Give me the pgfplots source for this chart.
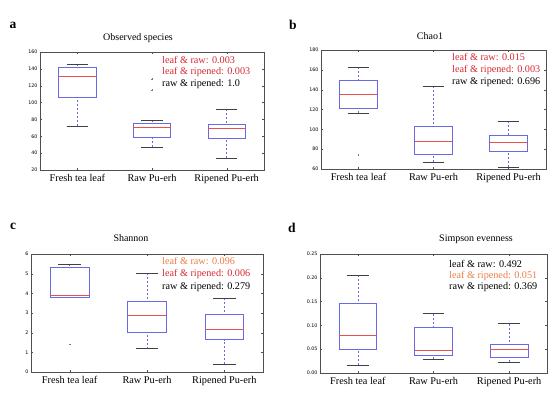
\documentclass[border=0pt]{standalone}
\usepackage{pgfplots}
\pgfplotsset{compat=1.18}
\usepgfplotslibrary{statistics}
\usepackage{fontspec}
\setmainfont{Liberation Serif}
\newfontfamily\tickfont{DejaVu Sans}
\definecolor{boxblue}{RGB}{105,105,230}
\definecolor{medred}{RGB}{230,80,80}
\definecolor{annred}{RGB}{215,40,50}
\definecolor{annorange}{RGB}{235,125,70}
\definecolor{framegray}{RGB}{80,80,80}
\pgfplotsset{
  bp/.style={
    scale only axis,
    xmin=0.5, xmax=3.5,
    xtick={1,2,3},
    xticklabels={Fresh tea leaf, Raw Pu-erh, Ripened Pu-erh},
    xticklabel style={font=\fontsize{10.3}{11}\selectfont, yshift=-0.5pt},
    yticklabel style={font=\tickfont\fontsize{4.8}{5}\selectfont, xshift=1pt},
    /pgf/number format/assume math mode=true,
    tick align=inside,
    major tick length=2pt,
    tick style={framegray, line width=0.3pt},
    axis line style={framegray, line width=0.5pt},
    xtick pos=both, ytick pos=both,
    clip=false,
    boxplot/draw direction=y,
    boxplot/box extend=0.5,
    boxplot/whisker extend=0.29,
    boxplot/every box/.style={draw=boxblue, line width=0.55pt},
    boxplot/every median/.style={draw=medred, line width=0.55pt},
    boxplot/draw/lower whisker/.code={%
      \draw[boxblue, line width=0.5pt, dash pattern=on 2pt off 2pt]
        (boxplot cs:\pgfplotsboxplotvalue{lower whisker}) --
        (boxplot cs:\pgfplotsboxplotvalue{lower quartile});
      \draw[black!75, line width=0.5pt]
        (boxplot whisker cs:\pgfplotsboxplotvalue{lower whisker},0) --
        (boxplot whisker cs:\pgfplotsboxplotvalue{lower whisker},1);
    },
    boxplot/draw/upper whisker/.code={%
      \draw[boxblue, line width=0.5pt, dash pattern=on 2pt off 2pt]
        (boxplot cs:\pgfplotsboxplotvalue{upper whisker}) --
        (boxplot cs:\pgfplotsboxplotvalue{upper quartile});
      \draw[black!75, line width=0.5pt]
        (boxplot whisker cs:\pgfplotsboxplotvalue{upper whisker},0) --
        (boxplot whisker cs:\pgfplotsboxplotvalue{upper whisker},1);
    },
  },
  outl/.style={mark=+, mark size=0.8pt, mark options={draw=boxblue!50!gray, line width=0.3pt, solid}},
}
\begin{document}
\begin{tikzpicture}
\path (0pt,0pt) rectangle (558pt,392pt);
% ---------- a ----------
\begin{axis}[bp, at={(40pt,222pt)}, anchor=south west, width=224pt, height=118pt,
  ymin=20, ymax=160, ytick={20,40,...,160}]
\addplot+[boxplot prepared={lower whisker=72.5, lower quartile=106.8, median=130.8, upper quartile=142.3, upper whisker=145.4, draw position=1}, outl] coordinates {};
\addplot+[boxplot prepared={lower whisker=47.2, lower quartile=58.3, median=70.9, upper quartile=76, upper whisker=78.8, draw position=2}, outl] coordinates {(2,127.7) (2,114.7)};
\addplot+[boxplot prepared={lower whisker=33.8, lower quartile=57.1, median=69.3, upper quartile=74.4, upper whisker=91.8, draw position=3}, outl] coordinates {};
\end{axis}
% ---------- b ----------
\begin{axis}[bp, at={(321pt,223pt)}, anchor=south west, width=225pt, height=119pt,
  ymin=60, ymax=180, ytick={60,80,...,180}]
\addplot+[boxplot prepared={lower whisker=116, lower quartile=121.3, median=135.1, upper quartile=149.5, upper whisker=162.6, draw position=1}, outl] coordinates {(1,74.4)};
\addplot+[boxplot prepared={lower whisker=67, lower quartile=74.7, median=87.8, upper quartile=102.9, upper whisker=143.8, draw position=2}, outl] coordinates {};
\addplot+[boxplot prepared={lower whisker=62, lower quartile=78.1, median=86.8, upper quartile=93.9, upper whisker=108.3, draw position=3}, outl] coordinates {};
\end{axis}
% ---------- c ----------
\begin{axis}[bp, at={(31pt,20pt)}, anchor=south west, width=232pt, height=118pt,
  ymin=0, ymax=6, ytick={0,1,...,6}]
\addplot+[boxplot prepared={lower whisker=3.82, lower quartile=3.82, median=3.92, upper quartile=5.35, upper whisker=5.49, draw position=1}, outl] coordinates {(1,1.40)};
\addplot+[boxplot prepared={lower whisker=1.19, lower quartile=2.03, median=2.91, upper quartile=3.61, upper whisker=5.01, draw position=2}, outl] coordinates {};
\addplot+[boxplot prepared={lower whisker=0.41, lower quartile=1.65, median=2.18, upper quartile=2.93, upper whisker=3.75, draw position=3}, outl] coordinates {};
\end{axis}
% ---------- d ----------
\begin{axis}[bp, at={(320pt,19pt)}, anchor=south west, width=227pt, height=119pt,
  ymin=0, ymax=0.25, ytick={0,0.05,0.1,0.15,0.2,0.25},
  yticklabel style={/pgf/number format/fixed, /pgf/number format/fixed zerofill, /pgf/number format/precision=2}]
\addplot+[boxplot prepared={lower whisker=0.0161, lower quartile=0.0504, median=0.0784, upper quartile=0.147, upper whisker=0.205, draw position=1}, outl] coordinates {};
\addplot+[boxplot prepared={lower whisker=0.0287, lower quartile=0.0364, median=0.0476, upper quartile=0.0952, upper whisker=0.125, draw position=2}, outl] coordinates {};
\addplot+[boxplot prepared={lower whisker=0.0224, lower quartile=0.0329, median=0.049, upper quartile=0.0609, upper whisker=0.1036, draw position=3}, outl] coordinates {};
\end{axis}
% ---------- panel letters ----------
\begin{scope}[font=\bfseries\fontsize{13.5}{14}\selectfont]
\node at (13pt,367pt) {a};
\node at (293pt,367pt) {b};
\node at (13pt,166pt) {c};
\node at (292pt,164pt) {d};
\end{scope}
% ---------- titles ----------
\begin{scope}[font=\fontsize{10}{11}\selectfont]
\node at (138pt,354pt) {Observed species};
\node at (430pt,356pt) {Chao1};
\node at (131pt,154pt) {Shannon};
\node at (476pt,153pt) {Simpson evenness};
\end{scope}
% ---------- annotations ----------
\begin{scope}[font=\fontsize{10.2}{11}\selectfont]
\node[anchor=west, inner sep=0pt, text=annred] at (162pt,332pt) {leaf \& raw: 0.003};
\node[anchor=west, inner sep=0pt, text=annred] at (162pt,320pt) {leaf \& ripened: 0.003};
\node[anchor=west, inner sep=0pt, text=black] at (162pt,308pt) {raw \& ripened: 1.0};
\node[anchor=west, inner sep=0pt, text=annred] at (452pt,335pt) {leaf \& raw: 0.015};
\node[anchor=west, inner sep=0pt, text=annred] at (452pt,322pt) {leaf \& ripened: 0.003};
\node[anchor=west, inner sep=0pt, text=black] at (452pt,310pt) {raw \& ripened: 0.696};
\node[anchor=west, inner sep=0pt, text=annorange] at (162pt,131pt) {leaf \& raw: 0.096};
\node[anchor=west, inner sep=0pt, text=annred] at (162pt,118pt) {leaf \& ripened: 0.006};
\node[anchor=west, inner sep=0pt, text=black] at (162pt,105pt) {raw \& ripened: 0.279};
\node[anchor=west, inner sep=0pt, text=black] at (449pt,128pt) {leaf \& raw: 0.492};
\node[anchor=west, inner sep=0pt, text=annorange] at (449pt,116pt) {leaf \& ripened: 0.051};
\node[anchor=west, inner sep=0pt, text=black] at (449pt,105pt) {raw \& ripened: 0.369};
\end{scope}
\end{tikzpicture}
\end{document}
